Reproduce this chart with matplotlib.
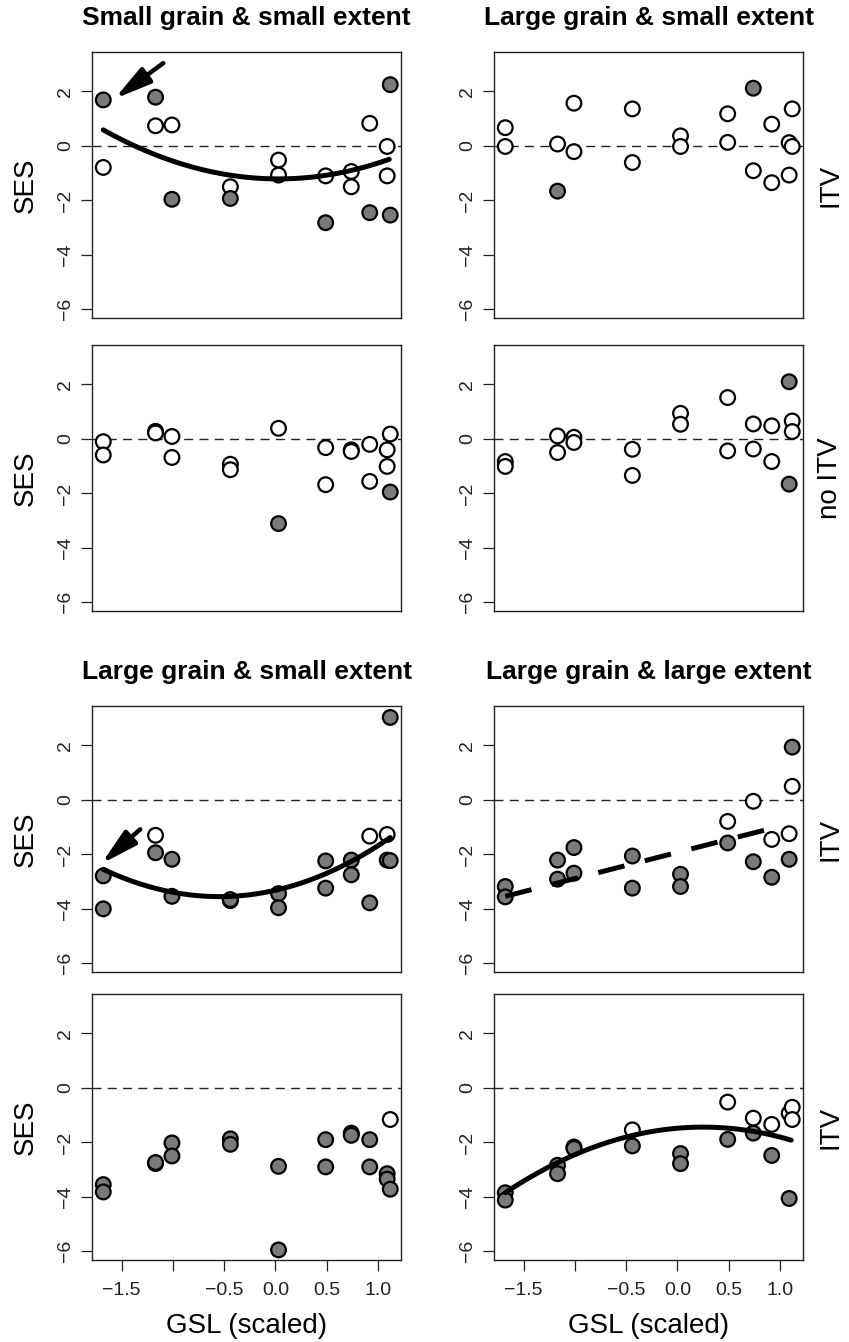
import numpy as np
import matplotlib
matplotlib.use("Agg")
import matplotlib.pyplot as plt

plt.rcParams['font.family'] = ['Liberation Sans', 'DejaVu Sans']

# GSL (scaled) of the 10 sites, two points per site
sites = [-1.68, -1.17, -1.01, -0.44, 0.03, 0.49, 0.74, 0.92, 1.09, 1.12]
gsl = np.repeat(sites, 2)

# SES values per panel (pairs per site), 1 = significant (grey), 0 = open
ses_a = [1.69, -0.79, 1.79, 0.74, 0.77, -1.96, -1.50, -1.93, -0.52, -1.07,
         -1.10, -2.82, -0.94, -1.50, 0.83, -2.45, -0.02, -1.10, 2.25, -2.54]
sig_a = [1, 0, 1, 0, 0, 1, 0, 1, 0, 0, 0, 1, 0, 0, 0, 1, 0, 0, 1, 1]

ses_b = [0.67, -0.02, 0.07, -1.66, 1.57, -0.21, 1.36, -0.61, 0.37, -0.02,
         1.18, 0.13, 2.12, -0.91, 0.80, -1.35, 0.12, -1.07, 1.36, -0.02]
sig_b = [0, 0, 0, 1, 0, 0, 0, 0, 0, 0, 0, 0, 1, 0, 0, 0, 0, 0, 0, 0]

ses_c = [-0.10, -0.59, 0.28, 0.22, 0.09, -0.68, -0.93, -1.13, 0.39, -3.11,
         -0.32, -1.68, -0.40, -0.46, -0.20, -1.56, -0.40, -1.01, 0.18, -1.95]
sig_c = [0, 0, 0, 0, 0, 0, 0, 0, 0, 1, 0, 0, 0, 0, 0, 0, 0, 0, 0, 1]

ses_d = [-0.83, -1.01, 0.11, -0.50, 0.06, -0.13, -0.38, -1.34, 0.94, 0.54,
         1.52, -0.44, 0.55, -0.37, 0.48, -0.83, 2.10, -1.66, 0.66, 0.27]
sig_d = [0, 0, 0, 0, 0, 0, 0, 0, 0, 0, 0, 0, 0, 0, 0, 0, 1, 1, 0, 0]

ses_e = [-2.79, -4.00, -1.30, -1.94, -2.18, -3.54, -3.70, -3.66, -3.44, -3.96,
         -2.24, -3.24, -2.21, -2.75, -1.33, -3.78, -1.27, -2.21, 3.03, -2.23]
sig_e = [1, 1, 0, 1, 1, 1, 1, 1, 1, 1, 1, 1, 1, 1, 0, 1, 0, 1, 1, 1]

ses_f = [-3.18, -3.56, -2.21, -2.91, -1.75, -2.69, -2.06, -3.24, -2.73, -3.18,
         -0.79, -1.58, -0.05, -2.27, -1.45, -2.84, -1.24, -2.18, 1.94, 0.50]
sig_f = [1, 1, 1, 1, 1, 1, 1, 1, 1, 1, 0, 1, 0, 1, 0, 1, 0, 1, 1, 0]

ses_g = [-3.55, -3.82, -2.78, -2.74, -2.02, -2.50, -1.87, -2.07, -2.88, -5.95,
         -1.90, -2.90, -1.66, -1.74, -1.90, -2.90, -3.15, -3.35, -1.16, -3.72]
sig_g = [1, 1, 1, 1, 1, 1, 1, 1, 1, 1, 1, 1, 1, 1, 1, 1, 1, 1, 0, 1]

ses_h = [-3.85, -4.12, -2.84, -3.15, -2.17, -2.22, -1.54, -2.13, -2.41, -2.78,
         -0.52, -1.89, -1.11, -1.66, -1.34, -2.48, -0.93, -4.06, -0.71, -1.16]
sig_h = [1, 1, 1, 1, 1, 1, 0, 1, 1, 1, 0, 1, 0, 1, 0, 1, 0, 1, 0, 0]

# fitted models (polynomial coefficients, highest power first)
fit_a = [0.616, -0.036, -1.21]
fit_e = [0.781, 0.855, -3.317]
fit_f = [0.96, -1.927]
fit_h = [-0.647, 0.323, -1.48]

titles = ["Small grain & small extent", "Large grain & small extent",
          "Large grain & small extent", "Large grain & large extent"]
row_labels = ["ITV", "no ITV", "ITV", "ITV"]

W, H = 849, 1342
fig = plt.figure(figsize=(W / 100, H / 100), dpi=100)

lefts = [92, 494]
tops = [52, 345, 706, 994]
pw, ph = 309, 266

panels = [
    (0, 0, ses_a, sig_a), (0, 1, ses_b, sig_b),
    (1, 0, ses_c, sig_c), (1, 1, ses_d, sig_d),
    (2, 0, ses_e, sig_e), (2, 1, ses_f, sig_f),
    (3, 0, ses_g, sig_g), (3, 1, ses_h, sig_h),
]

axes = {}
for r, c, ses, sig in panels:
    ax = fig.add_axes([lefts[c] / W, 1 - (tops[r] + ph) / H, pw / W, ph / H])
    axes[(r, c)] = ax
    ax.set_xlim(-1.79, 1.225)
    ax.set_ylim(-6.32, 3.45)
    ax.axhline(0, color='#222222', lw=1.0, dashes=(6.5, 4.5), zorder=1)
    colors = ['#7a7a7a' if s else 'white' for s in sig]
    ax.scatter(gsl, ses, s=112, c=colors, edgecolors='black', linewidths=1.6, zorder=3)
    ax.set_yticks([-6, -4, -2, 0, 2])
    ax.set_yticklabels(['\u22126', '\u22124', '\u22122', '0', '2'], rotation=90, va='center')
    ax.tick_params(axis='both', length=8, width=0.9, labelsize=14, color='#222222',
                   labelcolor='#222222')
    ax.tick_params(axis='y', pad=5)
    ax.tick_params(axis='x', pad=8)
    if r == 3:
        ax.set_xticks([-1.5, -1.0, -0.5, 0.0, 0.5, 1.0])
        ax.set_xticklabels(['\u22121.5', '', '\u22120.5', '0.0', '0.5', '1.0'])
    else:
        ax.set_xticks([])
    for sp in ax.spines.values():
        sp.set_linewidth(1.0)
        sp.set_color('#222222')
    if c == 0:
        fig.text(26 / W, 1 - (tops[r] + ph / 2) / H, "SES", rotation=90,
                 ha='center', va='center', fontsize=20)
    else:
        fig.text(830 / W, 1 - (tops[r] + ph / 2) / H, row_labels[r], rotation=90,
                 ha='center', va='center', fontsize=20)

# titles above rows 1 and 3
for r, ti in [(0, 0), (2, 2)]:
    for c in range(2):
        t = titles[ti + c]
        fig.text((lefts[c] + pw / 2) / W, 1 - (tops[r] - 27) / H, t,
                 ha='center', va='baseline', fontsize=19, fontweight='bold')

# x labels under the bottom row
for c in range(2):
    fig.text((lefts[c] + pw / 2) / W, 1 - 1333 / H, "GSL (scaled)",
             ha='center', va='baseline', fontsize=20)

# model fits
xs = np.linspace(-1.68, 1.11, 100)
axes[(0, 0)].plot(xs, np.polyval(fit_a, xs), color='black', lw=3.6,
                  solid_capstyle='round', zorder=4)
xs = np.linspace(-1.68, 1.12, 100)
axes[(2, 0)].plot(xs, np.polyval(fit_e, xs), color='black', lw=3.6,
                  solid_capstyle='round', zorder=4)
xs = np.linspace(-1.68, 0.98, 50)
axes[(2, 1)].plot(xs, np.polyval(fit_f, xs), color='black', lw=3.6,
                  dashes=(5.4, 4.2), dash_capstyle='butt', zorder=4)
xs = np.linspace(-1.68, 1.11, 100)
axes[(3, 1)].plot(xs, np.polyval(fit_h, xs), color='black', lw=3.6,
                  solid_capstyle='round', zorder=4)

# arrows pointing at the edge sites
arrow_kw = dict(arrowstyle='-|>,head_length=2.2,head_width=0.55', color='black',
                lw=3.2, mutation_scale=10, shrinkA=0, shrinkB=0)
axes[(0, 0)].annotate('', xy=(-1.57, 1.73), xytext=(-1.095, 3.04),
                      arrowprops=arrow_kw, zorder=5)
axes[(2, 0)].annotate('', xy=(-1.70, -2.35), xytext=(-1.32, -1.08),
                      arrowprops=arrow_kw, zorder=5)

fig.savefig("out.png", dpi=100)
